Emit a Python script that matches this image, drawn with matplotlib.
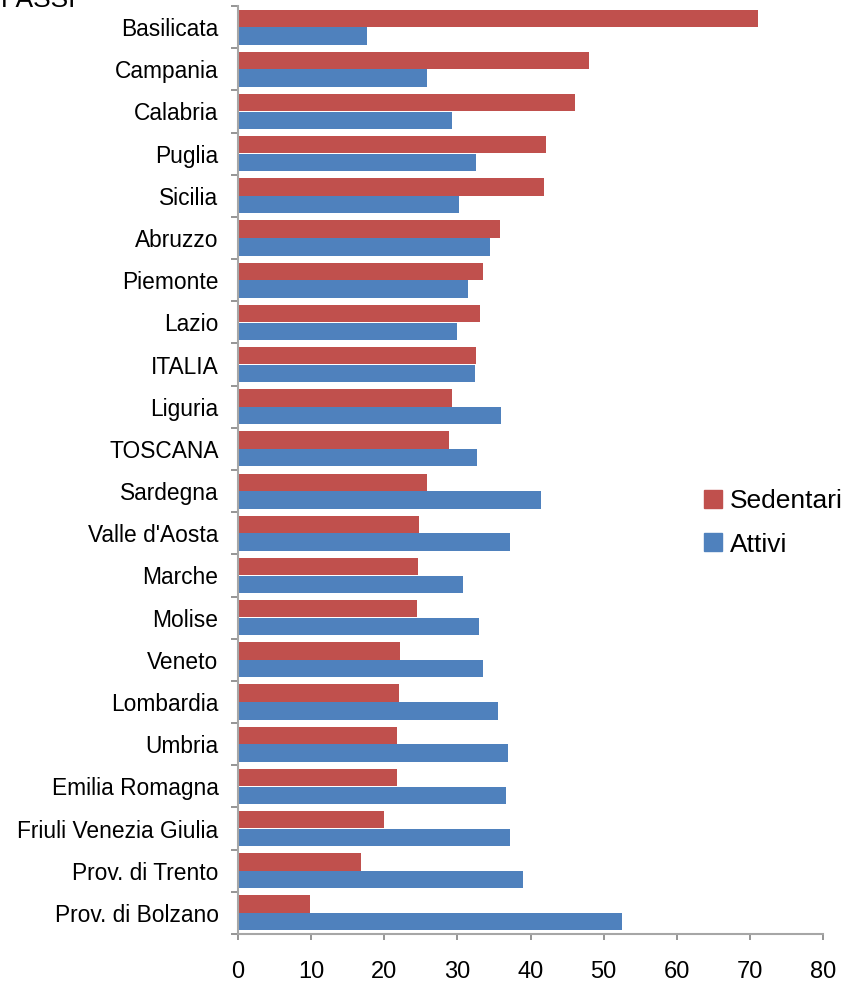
import matplotlib
matplotlib.use("Agg")
import matplotlib.pyplot as plt
import numpy as np
from matplotlib.patches import Patch

plt.rcParams['font.family'] = ['Liberation Sans', 'DejaVu Sans']

regions = ["Basilicata", "Campania", "Calabria", "Puglia", "Sicilia", "Abruzzo",
           "Piemonte", "Lazio", "ITALIA", "Liguria", "TOSCANA", "Sardegna",
           "Valle d'Aosta", "Marche", "Molise", "Veneto", "Lombardia", "Umbria",
           "Emilia Romagna", "Friuli Venezia Giulia", "Prov. di Trento",
           "Prov. di Bolzano"]
sedentari = [71.1, 48.0, 46.1, 42.1, 41.9, 35.8, 33.5, 33.1, 32.5, 29.3, 28.9, 25.8,
             24.8, 24.6, 24.5, 22.2, 22.0, 21.7, 21.7, 20.0, 16.8, 9.8]
attivi = [17.6, 25.9, 29.3, 32.6, 30.2, 34.5, 31.5, 29.9, 32.4, 36.0, 32.7, 41.4,
          37.2, 30.8, 33.0, 33.5, 35.6, 36.9, 36.6, 37.2, 39.0, 52.5]
xticks = [0, 10, 20, 30, 40, 50, 60, 70, 80]

RED = "#C0504D"
BLUE = "#4F81BD"

fig = plt.figure(figsize=(8.46, 9.82), dpi=100)
ax = fig.add_axes([238/846, 1-934/982, (823-238)/846, (934-6)/982])

n = len(regions)
y = np.arange(n)
h = 0.41
ax.barh(y - h/2 - 0.005, sedentari, height=h, color=RED, label="Sedentari")
ax.barh(y + h/2 + 0.005, attivi, height=h, color=BLUE, label="Attivi")

ax.set_ylim(n - 0.5, -0.5)
ax.set_xlim(0, 80)
ax.set_xticks(xticks)
ax.set_xticklabels([str(v) for v in xticks], fontsize=17)
ax.set_yticks(y)
ax.set_yticklabels(regions, fontsize=16.4)
ax.set_yticks(np.arange(-0.5, n, 1), minor=True)
ax.tick_params(axis='y', which='major', length=0, pad=14)
ax.tick_params(axis='y', which='minor', length=5, color='#8C8C8C', width=1.3)
ax.tick_params(axis='x', length=4.5, color='#8C8C8C', width=1.3, pad=15)

for s in ['top', 'right']:
    ax.spines[s].set_visible(False)
for s in ['left', 'bottom']:
    ax.spines[s].set_color('#A6A6A6')
    ax.spines[s].set_linewidth(1.5)

handles = [Patch(color=RED, label="Sedentari"), Patch(color=BLUE, label="Attivi")]
fig.legend(handles=handles, loc='center left', bbox_to_anchor=(704/846, 1-523/982),
           frameon=False, fontsize=19, handlelength=0.68, handleheight=0.68,
           handletextpad=0.3, labelspacing=0.72, borderpad=0, borderaxespad=0)

fig.text(0.001, 1.0 + 0.012, "PASSI", fontsize=19, ha='left', va='top')

fig.savefig("out.png", dpi=100)
